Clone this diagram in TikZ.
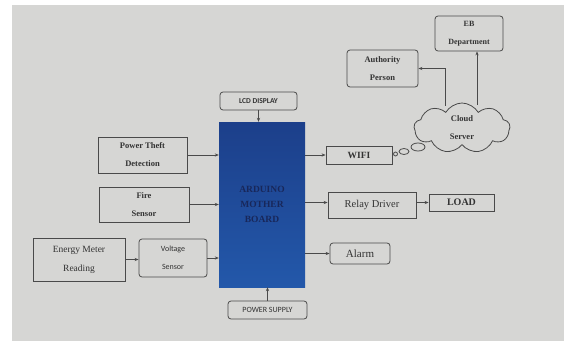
\documentclass[tikz,border=0pt]{standalone}
\usepackage{fontspec}
\setmainfont{Liberation Serif}
\newfontfamily\calfont{Carlito}
\usetikzlibrary{arrows.meta,shapes.symbols,shapes.geometric}
\definecolor{bgcol}{HTML}{D6D6D4}
\definecolor{ink}{HTML}{333333}
\definecolor{linecol}{HTML}{4A4A4A}
\definecolor{ardtop}{HTML}{1C3F8A}
\definecolor{ardbot}{HTML}{2358AA}
\definecolor{ardtext}{HTML}{18275A}
\begin{document}
\begin{tikzpicture}[x=1pt,y=-1pt,
  box/.style={draw=linecol,line width=0.8pt,rectangle,inner sep=0pt,text=ink,align=center},
  rbox/.style={box,rounded corners=3pt},
  arr/.style={draw=linecol,line width=0.7pt,-{Stealth[length=4pt,width=3.2pt]}},
  ser/.style={font=\fontsize{8.5}{10}\selectfont\bfseries},
  sans/.style={font=\calfont\fontsize{8}{9}\selectfont}
]
\useasboundingbox (0,0) rectangle (564,342);
\fill[white] (0,0) rectangle (564,342);
\fill[bgcol] (12,5) rectangle (564,341);

% main board
\node[top color=ardtop,bottom color=ardbot,minimum width=86pt,minimum height=165pt,inner sep=0pt,
  text=ardtext,align=center,font=\fontsize{9.5}{10}\selectfont\bfseries] (ard) at (262,204.5) {ARDUINO\\[5pt]MOTHER\\[5pt]BOARD};

% left side
\node[box,ser,minimum width=89pt,minimum height=36pt] (ptd) at (142.5,155) {Power Theft\\[8pt]Detection};
\node[box,ser,minimum width=90pt,minimum height=35pt] (fire) at (144,204.5) {Fire\\[8pt]Sensor};
\node[box,font=\fontsize{9.5}{11}\selectfont,minimum width=92pt,minimum height=43pt] (emr) at (79,259.5) {Energy Meter\\[8pt]Reading};
\node[rbox,sans,minimum width=68pt,minimum height=38pt] (volt) at (173,258) {Voltage\\[9pt]Sensor};

% top / bottom
\node[rbox,font=\calfont\fontsize{7.5}{9}\selectfont\bfseries,minimum width=77pt,minimum height=18pt] (lcd) at (258.5,101) {LCD DISPLAY};
\node[rbox,font=\calfont\fontsize{8}{9}\selectfont,minimum width=79pt,minimum height=18pt] (ps) at (267.5,310) {POWER SUPPLY};

% right side
\node[box,font=\fontsize{9.5}{10}\selectfont\bfseries,minimum width=66pt,minimum height=18pt] (wifi) at (359,155) {WIFI};
\node[box,font=\fontsize{10.5}{12}\selectfont,minimum width=88pt,minimum height=26pt] (relay) at (372,205) {Relay Driver};
\node[box,font=\fontsize{10}{12}\selectfont\bfseries,minimum width=65pt,minimum height=17pt] (load) at (461.5,202.5) {LOAD};
\node[rbox,font=\fontsize{11}{12}\selectfont,minimum width=60pt,minimum height=21pt] (alarm) at (360,253.5) {Alarm};

% cloud side
\node[rbox,ser,minimum width=71pt,minimum height=37pt] (auth) at (382.5,68.5) {Authority\\[8pt]Person};
\node[rbox,font=\fontsize{8}{9}\selectfont\bfseries,minimum width=68pt,minimum height=35pt] (eb) at (469,33.5) {EB\\[9pt]Department};
\node[cloud,draw=linecol,line width=0.8pt,fill=bgcol,cloud puffs=9,cloud puff arc=120,aspect=2,
  minimum width=96pt,minimum height=50pt,inner sep=0pt,text=ink,align=center,
  font=\fontsize{8.5}{10}\selectfont\bfseries] (cloud) at (462,128) {Cloud\\[8pt]Server};
\node[ellipse,draw=linecol,line width=0.8pt,minimum width=14pt,minimum height=8pt,inner sep=0pt] (b1) at (418,147) {};
\node[ellipse,draw=linecol,line width=0.8pt,minimum width=10pt,minimum height=6pt,inner sep=0pt] (b2) at (404,151.5) {};
\node[ellipse,draw=linecol,line width=0.8pt,minimum width=4pt,minimum height=4pt,inner sep=0pt] (b3) at (395.5,154) {};

\coordinate (c1) at (445,106);
\coordinate (c2) at (477,105);

% connectors
\draw[arr] (lcd.south) -- (lcd.south |- ard.north);
\draw[arr] (ps.north) -- (ps.north |- ard.south);
\draw[arr] (ptd.east) -- (ptd.east -| ard.west);
\draw[arr] (fire.east) -- (fire.east -| ard.west);
\draw[arr] (volt.east) -- (volt.east -| ard.west);
\draw[arr] (emr.east) -- (emr.east -| volt.west);
\draw[arr] (ard.east |- wifi.west) -- (wifi.west);
\draw[arr] (ard.east |- load.west) -- (load.west -| relay.west);
\draw[arr] (relay.east |- load.west) -- (load.west);
\draw[arr] (ard.east |- alarm.west) -- (alarm.west);
\draw[arr] (c1) |- (auth.east);
\draw[arr] (c2) -- (c2 |- eb.south);
\end{tikzpicture}
\end{document}
